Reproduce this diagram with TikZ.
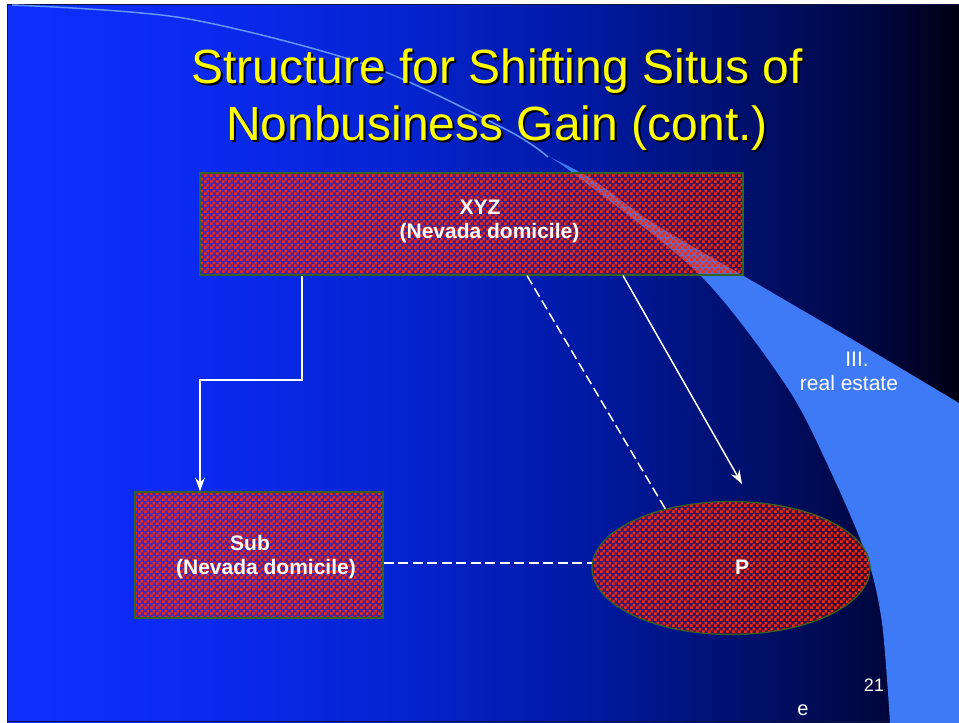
\documentclass[tikz,border=0pt]{standalone}
\usepackage{fontspec}
\setmainfont{Liberation Sans}
\usetikzlibrary{arrows.meta,shapes.geometric,patterns,calc}
\pgfdeclarepatternformonly{redcheck}{\pgfqpoint{0pt}{0pt}}{\pgfqpoint{6pt}{6pt}}{\pgfqpoint{6pt}{6pt}}{%
  \pgfpathrectangle{\pgfqpoint{0pt}{0pt}}{\pgfqpoint{3pt}{3pt}}%
  \pgfpathrectangle{\pgfqpoint{3pt}{3pt}}{\pgfqpoint{3pt}{3pt}}%
  \pgfusepath{fill}}
\definecolor{bg0}{RGB}{15,48,255}
\definecolor{bg1}{RGB}{10,42,240}
\definecolor{bg2}{RGB}{5,36,210}
\definecolor{bg3}{RGB}{0,26,165}
\definecolor{bg4}{RGB}{0,14,100}
\definecolor{bg5}{RGB}{0,6,60}
\definecolor{bg6}{RGB}{0,0,18}
\definecolor{bandblue}{RGB}{62,122,245}
\definecolor{arcblue}{RGB}{100,150,255}
\definecolor{checkred}{RGB}{250,40,10}
\definecolor{boxedge}{RGB}{50,100,30}
\definecolor{titleyellow}{RGB}{255,255,0}
\definecolor{slideedge}{RGB}{15,20,70}
\pgfdeclarehorizontalshading{slidebg}{100bp}{color(0bp)=(bg0); color(25bp)=(bg0); color(35bp)=(bg1); color(45bp)=(bg2); color(55bp)=(bg3); color(65bp)=(bg4); color(71bp)=(bg5); color(75bp)=(bg6); color(100bp)=(bg6)}
\tikzset{
  box/.style={draw=boxedge, line width=1.2pt, preaction={fill=checkred, fill opacity=0.22}, pattern=redcheck, pattern color=checkred, inner sep=0pt},
  lbl/.style={text=white, font=\fontsize{21}{24}\bfseries\selectfont, inner sep=0pt, anchor=base},
  note/.style={text=white, font=\fontsize{21}{24}\selectfont, inner sep=0pt, anchor=base},
  ttl/.style={font=\fontsize{48}{57}\selectfont, inner sep=0pt, anchor=base},
  wline/.style={draw=white, line width=1.5pt},
  arr/.style={wline, -{Stealth[length=14pt, width=10pt, inset=5pt]}},
  dsh/.style={wline, dash pattern=on 10pt off 4.5pt}
}
\begin{document}
\begin{tikzpicture}[x=1pt, y=-1pt]
\useasboundingbox (0,0) rectangle (959,723);
\fill[white] (0,0) rectangle (959,723);
\shade[shading=slidebg] (7,4) rectangle (959,722);
\draw[slideedge, line width=1pt] (7.5,4.5) -- (7.5,721.5) -- (959,721.5);
\draw[slideedge, line width=1pt] (7.5,4.5) -- (959,4.5);
% curved band
\fill[bandblue] plot[smooth] coordinates {(545,155) (573,173) (700,275) (787,387) (830,470) (867,557) (882,623) (890,723)}
  -- (959,723) -- (959,403)
  -- plot[smooth] coordinates {(850,338) (742,275) (653,223) (590,178) (545,155)} -- cycle;
\draw[arcblue, line width=1.5pt] plot[smooth] coordinates {(12,5) (183,18) (367,65) (507,130) (548,157)};
% title
\node[ttl, text=black] (t1s) at (499,85) {Structure for Shifting Situs of};
\node[ttl, text=titleyellow] (t1) at (497,83) {Structure for Shifting Situs of};
\node[ttl, text=black] (t2s) at (499,142) {Nonbusiness Gain (cont.)};
\node[ttl, text=titleyellow] (t2) at (497,140) {Nonbusiness Gain (cont.)};
% nodes
\node[box, rectangle, minimum width=543pt, minimum height=102pt] (xyz) at (471.5,224) {};
\node[box, rectangle, minimum width=248pt, minimum height=126pt] (sub) at (259,555) {};
\node[box, ellipse, minimum width=278pt, minimum height=133pt] (p) at (731,568) {};
\node[lbl] (xyzt1) at (480,214) {XYZ};
\node[lbl] (xyzt2) at (489.5,238) {(Nevada domicile)};
\node[lbl] (subt1) at (250,550) {Sub};
\node[lbl] (subt2) at (266,574) {(Nevada domicile)};
\node[lbl] (pt) at (742,574) {P};
% connectors
\coordinate (k1) at (302,380);
\coordinate (k2) at (200,380);
\draw[arr] (xyz.south -| k1) -- (k1) -- (k2) -- (sub.north -| k2);
\coordinate (d1) at (527,275);
\draw[dsh] (xyz.south -| d1) -- (p.138);
\coordinate (a1) at (623,275);
\coordinate (a2) at (742,484);
\draw[arr] (xyz.south -| a1) -- (a2);
\draw[dsh] (sub.east |- p.178) -- (p.178);
% side labels
\node[note] (iii) at (857,366) {III.};
\node[note] (re) at (849,390) {real estate};
\node[note, font=\fontsize{18}{20}\selectfont] (pg) at (874,691) {21};
\node[note, font=\fontsize{20}{22}\selectfont] (ee) at (803,715) {e};
\end{tikzpicture}
\end{document}
